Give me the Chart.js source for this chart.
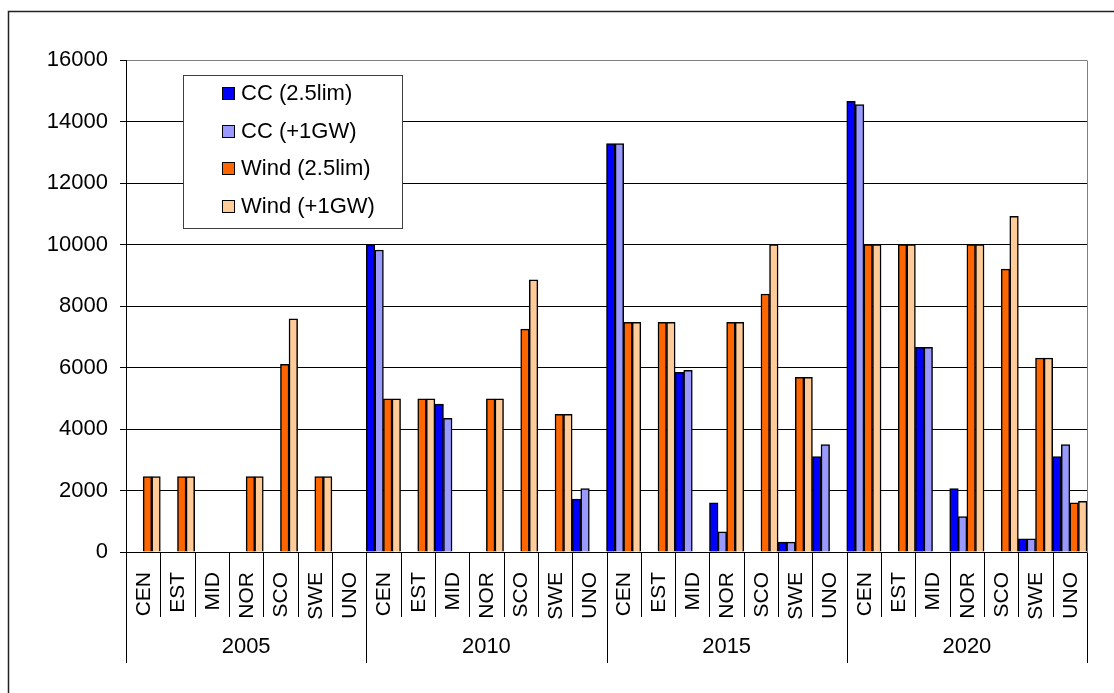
<!DOCTYPE html>
<html>
<head>
<meta charset="utf-8">
<script src="https://cdn.jsdelivr.net/npm/chart.js@4/dist/chart.umd.min.js"></script>
<style>
  html, body { margin: 0; padding: 0; background: #fff; }
  canvas { display: block; }
</style>
</head>
<body>
<canvas id="c" width="1114" height="693"></canvas>
<script>
// ---- data ----
const years = ['2005', '2010', '2015', '2020'];
const regions = ['CEN', 'EST', 'MID', 'NOR', 'SCO', 'SWE', 'UNO'];
const categories = years.flatMap(() => regions);

const seriesNames = ['CC (2.5lim)', 'CC (+1GW)', 'Wind (2.5lim)', 'Wind (+1GW)'];
const seriesColors = ['#0000FF', '#9999FF', '#FF6600', '#FFCC99'];

const ccLim = [
  null, null, null, null, null, null, null,
  10000, null, 4810, null, null, null, 1720,
  13280, null, 5840, 1600, null, 320, 3100,
  14660, null, 6660, 2060, null, 430, 3100
];
const ccGW = [
  null, null, null, null, null, null, null,
  9820, null, 4350, null, null, null, 2060,
  13280, null, 5910, 660, null, 320, 3490,
  14550, null, 6660, 1150, null, 430, 3490
];
const windLim = [
  2450, 2450, null, 2450, 6100, 2450, null,
  4980, 4980, null, 4980, 7250, 4480, null,
  7470, 7470, null, 7470, 8390, 5680, null,
  10000, 10000, null, 10000, 9200, 6310, 1600
];
const windGW = [
  2450, 2450, null, 2450, 7580, 2450, null,
  4980, 4980, null, 4980, 8850, 4480, null,
  7470, 7470, null, 7470, 10000, 5680, null,
  10000, 10000, null, 10000, 10920, 6310, 1650
];
const yTicks = [0, 2000, 4000, 6000, 8000, 10000, 12000, 14000, 16000];

const FONT = '"Liberation Sans", Arial, sans-serif';
const FS = 22;      // horizontal text
const FS_ROT = 21;  // rotated category labels

const seriesData = [ccLim, ccGW, windLim, windGW];

const decorPlugin = {
  id: 'decor',
  beforeDraw(chart) {
    const ctx = chart.ctx;
    ctx.save();
    ctx.fillStyle = '#fff';
    ctx.fillRect(0, 0, chart.width, chart.height);
    ctx.restore();
  },
  afterDraw(chart) {
    const ctx = chart.ctx;
    const x = chart.scales.x;
    const y = chart.scales.y;
    const area = chart.chartArea;
    const n = categories.length;
    const w = (x.right - x.left) / n;
    const base = Math.round(y.getPixelForValue(0)) + 0.5;
    ctx.save();

    // plot area right border (gray)
    ctx.strokeStyle = '#808080';
    ctx.lineWidth = 1;
    ctx.beginPath();
    ctx.moveTo(Math.round(area.right) + 0.5, Math.round(area.top) + 0.5);
    ctx.lineTo(Math.round(area.right) + 0.5, base);
    ctx.stroke();

    // category separators
    ctx.strokeStyle = '#000';
    for (let i = 0; i <= n; i++) {
      const px = Math.round(x.left + i * w) + 0.5;
      const isYear = i % regions.length === 0;
      ctx.beginPath();
      ctx.moveTo(px, base);
      ctx.lineTo(px, isYear ? 663 : 617);
      ctx.stroke();
    }

    // category labels (rotated)
    ctx.fillStyle = '#000';
    ctx.font = FS_ROT + 'px ' + FONT;
    for (let i = 0; i < n; i++) {
      const cx = x.getPixelForValue(i);
      ctx.save();
      ctx.translate(cx + 1, 572);
      ctx.rotate(-Math.PI / 2);
      ctx.textAlign = 'right';
      ctx.textBaseline = 'middle';
      ctx.fillText(categories[i], 0, 0);
      ctx.restore();
    }

    // year labels
    ctx.font = FS + 'px ' + FONT;
    ctx.textAlign = 'center';
    ctx.textBaseline = 'middle';
    years.forEach((yr, k) => {
      const x0 = x.left + k * regions.length * w;
      const x1 = x0 + regions.length * w;
      ctx.fillText(yr, (x0 + x1) / 2, 647);
    });

    // legend
    const lx = 183.5, ly = 75.5, lw = 219, lh = 153;
    ctx.fillStyle = '#fff';
    ctx.fillRect(lx, ly, lw, lh);
    ctx.strokeStyle = '#404040';
    ctx.lineWidth = 1;
    ctx.strokeRect(lx, ly, lw, lh);
    const rowY = [93, 131, 168, 206];
    chart.data.datasets.forEach((ds, k) => {
      ctx.fillStyle = ds.backgroundColor;
      ctx.fillRect(222, rowY[k] - 6, 12, 12);
      ctx.strokeStyle = '#000';
      ctx.strokeRect(222.5, rowY[k] - 5.5, 12, 12);
      ctx.fillStyle = '#000';
      ctx.textAlign = 'left';
      ctx.textBaseline = 'middle';
      ctx.fillText(ds.label, 241, rowY[k] + 1);
    });

    // outer frame (left & top visible)
    ctx.strokeStyle = '#222';
    ctx.lineWidth = 1.5;
    ctx.beginPath();
    ctx.moveTo(8.5, chart.height);
    ctx.lineTo(8.5, 11.5);
    ctx.lineTo(chart.width, 11.5);
    ctx.stroke();

    ctx.restore();
  }
};

new Chart(document.getElementById('c'), {
  type: 'bar',
  data: {
    labels: categories,
    datasets: seriesNames.map((name, k) => ({
      label: name,
      data: seriesData[k],
      backgroundColor: seriesColors[k],
      borderColor: '#000',
      borderWidth: 1.5,
      categoryPercentage: 1.0,
      barPercentage: 1.0
    }))
  },
  options: {
    responsive: false,
    devicePixelRatio: 1,
    animation: false,
    layout: { padding: { top: 60, right: 27, left: 0, bottom: 0 } },
    plugins: {
      legend: { display: false },
      tooltip: { enabled: false }
    },
    scales: {
      x: {
        ticks: { display: false },
        grid: { display: false },
        border: { display: false },
        afterFit(s) { s.height = 141; }
      },
      y: {
        min: 0,
        max: 16000,
        afterBuildTicks(s) { s.ticks = yTicks.map(v => ({ value: v })); },
        ticks: {
          color: '#000',
          font: { family: FONT, size: FS },
          padding: 12,
          callback: v => String(v)
        },
        grid: {
          color: c => (c.tick && c.tick.value === 16000) ? '#808080' : '#000',
          tickColor: '#000',
          tickLength: 6,
          lineWidth: 1
        },
        border: { color: '#000', width: 1 },
        afterFit(s) { s.width = 126; }
      }
    }
  },
  plugins: [decorPlugin]
});
</script>
</body>
</html>
